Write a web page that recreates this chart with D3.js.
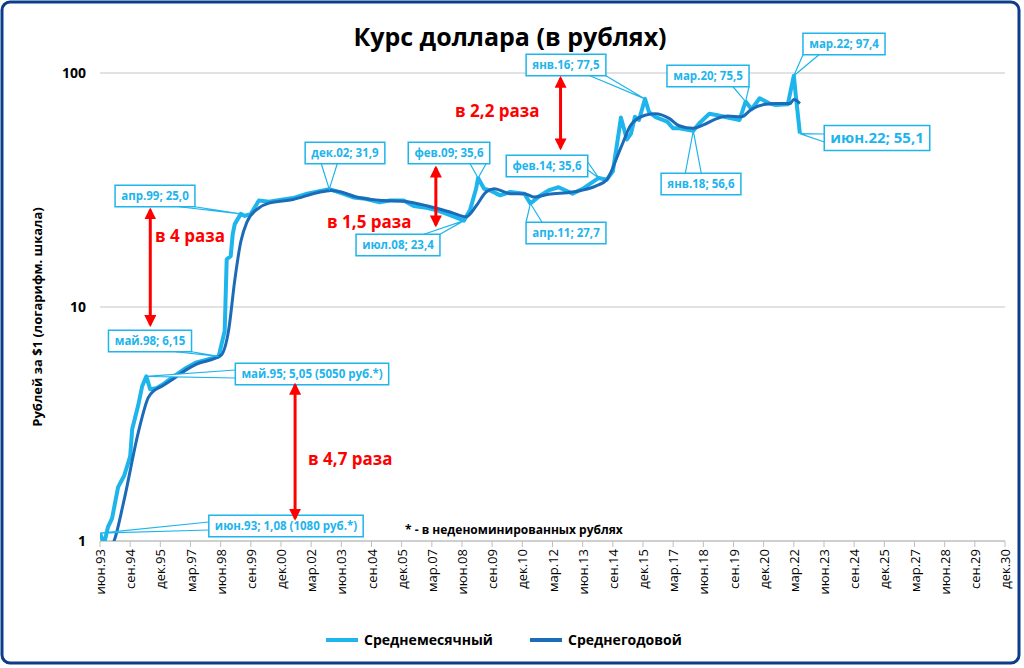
<!DOCTYPE html>
<html lang="ru">
<head>
<meta charset="UTF-8">
<title>Курс доллара</title>
<script src="https://d3js.org/d3.v7.min.js"></script>
<style>
  body { margin: 0; background: #fff; font-family: "Open Sans", Arial, sans-serif; }
  svg { display: block; }
</style>
</head>
<body>
<svg id="chart" width="1024" height="668"></svg>
<script>
// среднемесячный курс (опорные точки)
const monthlyDates = ["1993-06","1993-08","1993-10","1993-12","1994-03","1994-06","1994-09","1994-10","1995-01","1995-03","1995-05","1995-07","1995-10","1996-01","1996-06","1997-01","1997-06","1998-05","1998-08","1998-09","1998-11","1998-12","1999-01","1999-04","1999-06","1999-09","2000-01","2000-06","2001-01","2001-06","2002-01","2002-12","2003-06","2003-12","2004-06","2005-01","2005-06","2006-01","2006-06","2007-01","2007-06","2008-01","2008-07","2008-10","2009-01","2009-02","2009-05","2009-08","2010-01","2010-06","2011-01","2011-04","2011-09","2012-01","2012-06","2013-01","2013-06","2014-02","2014-06","2014-09","2014-12","2015-01","2015-04","2015-06","2015-08","2015-10","2016-01","2016-03","2016-06","2016-12","2017-03","2017-06","2018-01","2018-04","2018-09","2019-01","2019-06","2019-12","2020-03","2020-06","2020-10","2021-03","2021-06","2021-12","2022-03","2022-04","2022-06"];
const monthlyValues = [1.08,0.97,1.15,1.25,1.7,1.9,2.3,3.0,3.8,4.6,5.05,4.45,4.5,4.65,5.0,5.5,5.8,6.15,7.9,16,16.5,20.5,22.6,25.0,24.5,25.0,28.5,28.2,28.8,29.2,30.5,31.9,30.7,29.4,29.0,28.0,28.5,28.5,27.0,26.5,25.8,24.5,23.4,26,32,35.6,32,31.5,30,31,30.5,27.7,30,31.5,32.5,30.5,32,35.6,35,38,56,64.5,52,55,65,63,77.5,68,65,62,58,58,56.6,61,67,66,64.5,63,75.5,70,78,74,73,73.5,97.4,80,55.1];

// среднегодовой курс
const yearlyDates = ["1993-10","1994-01","1994-06","1995-01","1995-06","1995-09","1996-01","1996-06","1997-01","1997-06","1998-06","1998-10","1999-01","1999-04","1999-07","2000-01","2000-06","2001-06","2002-06","2003-01","2003-06","2004-01","2005-01","2006-01","2007-01","2008-01","2008-08","2009-01","2009-06","2009-10","2010-06","2011-01","2011-06","2012-01","2013-01","2014-01","2014-06","2015-01","2015-06","2016-01","2016-06","2017-01","2017-06","2018-01","2018-06","2019-01","2019-06","2020-01","2020-06","2021-01","2021-06","2022-01","2022-03","2022-06"];
const yearlyValues = [0.9,1.0,1.5,2.9,4.1,4.4,4.6,4.9,5.4,5.7,6.2,8,13,19,23,26.5,27.8,28.8,30.8,31.5,31,29.6,28.6,28.3,27,25.3,24.3,27,31,32,30.5,30.5,29.5,30.3,31,33,35,48,60,66,67,64,59.5,58,60,64,65.5,65,70,73.5,74,74,77,74];

// подписи оси X (каждые 15 месяцев)
const tickLabels = ["июн.93","сен.94","дек.95","мар.97","июн.98","сен.99","дек.00","мар.02","июн.03","сен.04","дек.05","мар.07","июн.08","сен.09","дек.10","мар.12","июн.13","сен.14","дек.15","мар.17","июн.18","сен.19","дек.20","мар.22","июн.23","сен.24","дек.25","мар.27","июн.28","сен.29","дек.30"];
const yTicks = [1, 10, 100];

// выноски: дата, значение, текст
const calloutDates = ["2002-12","1999-04","1998-05","1995-05","1993-06","2008-07","2009-02","2014-02","2011-04","2016-01","2020-03","2018-01","2022-03","2022-06"];
const calloutValues = [31.9,25.0,6.15,5.05,1.08,23.4,35.6,35.6,27.7,77.5,75.5,56.6,97.4,55.1];
const calloutTexts = ["дек.02; 31,9","апр.99; 25,0","май.98; 6,15","май.95; 5,05 (5050 руб.*)","июн.93; 1,08 (1080 руб.*)","июл.08; 23,4","фев.09; 35,6","фев.14; 35,6","апр.11; 27,7","янв.16; 77,5","мар.20; 75,5","янв.18; 56,6","мар.22; 97,4","июн.22; 55,1"];
// положение рамок (центр, пиксели)
const calloutBoxes = [[345,153],[155,196],[150,341],[312,374],[286,526],[398,245],[449,153],[547,166],[566,233],[566,65],[708,76],[701,184],[844,44],[877,138]];

// красные стрелки: дата, значение сверху, значение снизу, текст
const arrowDates = ["1995-07","2007-05","2012-07","2001-07"];
const arrowTop = [26, 39.3, 95, 4.64];
const arrowBottom = [8.4, 22.4, 47.8, 1.25];
const arrowTexts = ["в 4 раза","в 1,5 раза","в 2,2 раза","в 4,7 раза"];
const arrowTextPos = [[155,242],[327,228],[455,117],[308,465]];

const svg = d3.select("#chart");
const W = 1024, H = 668;
const pLeft = 100, pRight = 1005, pTop = 73, pBottom = 541;
const light = "#1eb4ec", dark = "#1c6bb8";

function mIdx(s) {
  const [yy, mm] = s.split("-").map(Number);
  return (yy - 1993) * 12 + (mm - 6);
}

const x = d3.scaleLinear().domain([0, 450]).range([pLeft, pRight]);
const y = d3.scaleLog().domain([1, 100]).range([pBottom, pTop]);

// рамка
const defs = svg.append("defs");
defs.append("clipPath").attr("id", "clip")
  .append("rect").attr("x", pLeft).attr("y", 20).attr("width", pRight - pLeft + 5).attr("height", pBottom - 20);
svg.append("rect").attr("x", 2).attr("y", 2).attr("width", W - 7).attr("height", H - 7)
  .attr("rx", 8).attr("fill", "#fff").attr("stroke", "#0d3d8a").attr("stroke-width", 3);

// заголовок
svg.append("text").attr("x", 510).attr("y", 46).attr("text-anchor", "middle")
  .attr("font-size", 25).attr("font-weight", "bold").attr("fill", "#000")
  .text("Курс доллара (в рублях)");

// сетка
svg.append("g").selectAll("line").data(yTicks.slice(1)).join("line")
  .attr("x1", pLeft).attr("x2", pRight).attr("y1", d => y(d)).attr("y2", d => y(d))
  .attr("stroke", "#d9d9d9").attr("stroke-width", 1.5);

// ось Y
svg.append("g").selectAll("text").data(yTicks).join("text")
  .attr("x", pLeft - 14).attr("y", d => y(d) + 5).attr("text-anchor", "end")
  .attr("font-size", 14).attr("font-weight", "bold").text(d => d);
svg.append("text").attr("transform", `translate(42,${(pTop + pBottom) / 2 + 10}) rotate(-90)`)
  .attr("text-anchor", "middle").attr("font-size", 13).attr("font-weight", "bold")
  .text("Рублей за $1 (логарифм. шкала)");

// ось X
const tickIdx = tickLabels.map((d, i) => i * 15);
svg.append("line").attr("x1", pLeft).attr("x2", pRight).attr("y1", pBottom).attr("y2", pBottom)
  .attr("stroke", "#bfbfbf").attr("stroke-width", 1.5);
svg.append("g").selectAll("line").data(tickIdx).join("line")
  .attr("x1", d => x(d)).attr("x2", d => x(d)).attr("y1", pBottom).attr("y2", pBottom + 6)
  .attr("stroke", "#bfbfbf");
svg.append("g").selectAll("text").data(tickLabels).join("text")
  .attr("transform", (d, i) => `translate(${x(tickIdx[i]) + 5},${pBottom + 8}) rotate(-90)`)
  .attr("text-anchor", "end").attr("font-size", 13).text(d => d);

// линии
const monthly = monthlyDates.map((d, i) => [mIdx(d), monthlyValues[i]]);
const yearly = yearlyDates.map((d, i) => [mIdx(d), yearlyValues[i]]);
const g = svg.append("g").attr("clip-path", "url(#clip)");
g.append("path").datum(monthly).attr("d", d3.line().x(d => x(d[0])).y(d => y(d[1])))
  .attr("fill", "none").attr("stroke", light).attr("stroke-width", 4).attr("stroke-linejoin", "round");
g.append("path").datum(yearly).attr("d", d3.line().x(d => x(d[0])).y(d => y(d[1])).curve(d3.curveMonotoneX))
  .attr("fill", "none").attr("stroke", dark).attr("stroke-width", 3);

// выноски
calloutTexts.forEach((t, i) => {
  const px = x(mIdx(calloutDates[i])), py = y(calloutValues[i]);
  const [bx, by] = calloutBoxes[i];
  const big = i === calloutTexts.length - 1;
  const fs = big ? 15 : 11.5;
  const cg = svg.append("g");
  const txt = cg.append("text").attr("x", bx).attr("y", by + fs * 0.36).attr("text-anchor", "middle")
    .attr("font-size", fs).attr("font-weight", "bold").attr("fill", light).text(t);
  const bb = txt.node().getBBox();
  const bw = bb.width + 12, bh = fs + 10;
  let d;
  if (Math.abs(py - by) < bh / 2 + 2) {
    const sx = px > bx ? bx + bw / 2 : bx - bw / 2;
    d = `M${sx},${by - 4}L${px},${py}L${sx},${by + 4}`;
  } else {
    const ex = Math.max(bx - bw / 2 + 8, Math.min(bx + bw / 2 - 8, px));
    const ey = py < by ? by - bh / 2 : by + bh / 2;
    d = `M${ex - 8},${ey}L${px},${py}L${ex + 8},${ey}`;
  }
  cg.insert("path", "text").attr("d", d)
    .attr("fill", "#fff").attr("stroke", light).attr("stroke-width", 1.2);
  cg.insert("rect", "text").attr("x", bx - bw / 2).attr("y", by - bh / 2).attr("width", bw).attr("height", bh)
    .attr("fill", "#fff").attr("stroke", light).attr("stroke-width", 1.5);
});

// красные стрелки
defs.append("marker").attr("id", "ah").attr("viewBox", "0 0 10 10").attr("refX", 8).attr("refY", 5)
  .attr("markerWidth", 4).attr("markerHeight", 4).attr("orient", "auto-start-reverse")
  .append("path").attr("d", "M0,0L10,5L0,10z").attr("fill", "#f00");
arrowDates.forEach((d, i) => {
  const ax = x(mIdx(d));
  svg.append("line").attr("x1", ax).attr("x2", ax).attr("y1", y(arrowTop[i])).attr("y2", y(arrowBottom[i]))
    .attr("stroke", "#f00").attr("stroke-width", 3)
    .attr("marker-start", "url(#ah)").attr("marker-end", "url(#ah)");
  svg.append("text").attr("x", arrowTextPos[i][0]).attr("y", arrowTextPos[i][1])
    .attr("font-size", 17).attr("font-weight", "bold").attr("fill", "#f00").text(arrowTexts[i]);
});

// сноска
svg.append("text").attr("x", 405).attr("y", 534).attr("font-size", 12).attr("font-weight", "bold")
  .text("* - в неденоминированных рублях");

// легенда
const legend = [["Среднемесячный", light, 326], ["Среднегодовой", dark, 530]];
legend.forEach(([name, c, lx]) => {
  svg.append("line").attr("x1", lx).attr("x2", lx + 32).attr("y1", 640).attr("y2", 640)
    .attr("stroke", c).attr("stroke-width", 4);
  svg.append("text").attr("x", lx + 38).attr("y", 645).attr("font-size", 14).attr("font-weight", "bold")
    .text(name);
});
</script>
</body>
</html>
